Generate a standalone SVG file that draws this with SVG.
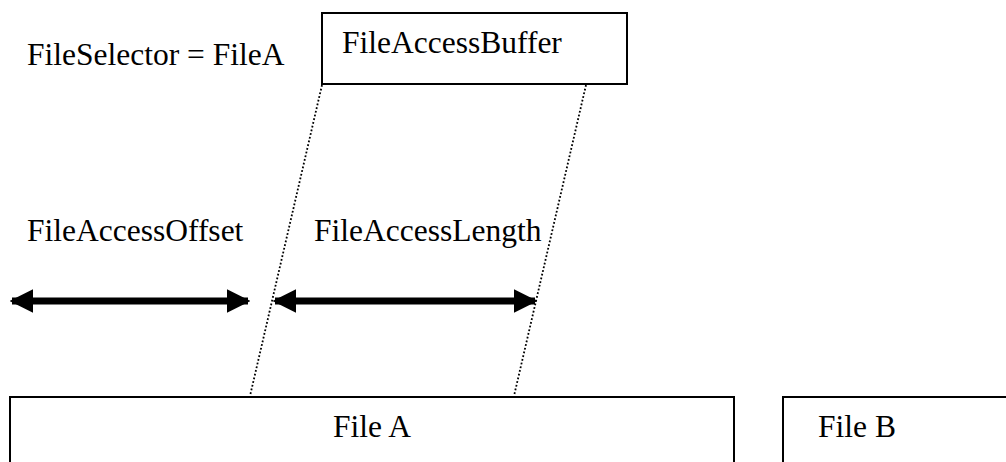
<svg xmlns="http://www.w3.org/2000/svg" width="1006" height="462" viewBox="0 0 1006 462">
<style>
.t{font-family:"Liberation Serif","Times New Roman",serif;font-size:31.5px;fill:#000}
.box{fill:#fff;stroke:#000;stroke-width:2}
.dot{fill:none;stroke:#000;stroke-width:1.8;stroke-dasharray:1.8 2}
.arr{fill:none;stroke:#000;stroke-width:7}
</style>
<defs>
<marker id="ah" viewBox="0 0 10 10" refX="9" refY="5" markerWidth="3.4" markerHeight="3.4" orient="auto-start-reverse" markerUnits="strokeWidth">
<path d="M0,0 L10,5 L0,10 z" fill="#000"/>
</marker>
</defs>
<rect width="1006" height="462" fill="#fff"/>
<g id="label-selector"><text class="t" x="27" y="65">FileSelector = FileA</text></g>
<g id="buffer"><rect class="box" x="322" y="13" width="305" height="71"/><text class="t" x="342" y="53">FileAccessBuffer</text></g>
<g id="label-offset"><text class="t" x="27" y="241">FileAccessOffset</text></g>
<g id="label-length"><text class="t" x="314" y="241">FileAccessLength</text></g>
<g id="fileA"><rect class="box" x="10" y="397" width="724" height="80"/><text class="t" x="372" y="437" text-anchor="middle">File A</text></g>
<g id="fileB"><rect class="box" x="783" y="397" width="240" height="80"/><text class="t" x="857" y="437" text-anchor="middle">File B</text></g>
<g id="connectors">
<line class="dot" x1="322" y1="85" x2="250" y2="396"/>
<line class="dot" x1="586" y1="85" x2="514" y2="396"/>
<line class="arr" x1="12" y1="301" x2="248" y2="301" marker-start="url(#ah)" marker-end="url(#ah)"/>
<line class="arr" x1="275" y1="301" x2="535" y2="301" marker-start="url(#ah)" marker-end="url(#ah)"/>
</g>
</svg>
